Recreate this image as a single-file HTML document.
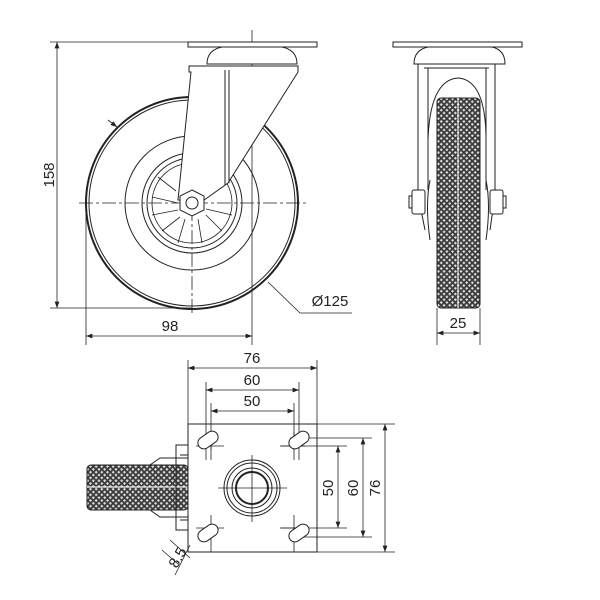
<!DOCTYPE html>
<html><head><style>body{margin:0;background:#fff}svg{display:block}text{font-family:"Liberation Sans",sans-serif;font-size:15px;fill:#222;stroke:none;font-weight:normal}</style></head><body>
<svg width="600" height="600" viewBox="0 0 600 600" fill="none" stroke="#222" stroke-width="1">
<defs>
<pattern id="kn" width="4" height="4" patternUnits="userSpaceOnUse" patternTransform="rotate(45)">
<rect width="4" height="4" fill="#3a3a3a" stroke="none"/><rect x="0.8" y="0.8" width="2.2" height="2.2" fill="#ddd" stroke="none"/></pattern>
<marker id="a" markerWidth="8" markerHeight="6" refX="8" refY="3" orient="auto-start-reverse"><path d="M0,0L8,3L0,6z" fill="#222" stroke="none"/></marker>
</defs>
<!-- side view -->
<g stroke-width="0.8">
<line x1="50" y1="42" x2="188" y2="42"/><line x1="50" y1="308" x2="192" y2="308"/>
<line x1="57" y1="42" x2="57" y2="308" marker-start="url(#a)" marker-end="url(#a)"/>
<line x1="86" y1="200" x2="86" y2="345"/><line x1="252" y1="30" x2="252" y2="345"/>
<line x1="86" y1="336" x2="252" y2="336" marker-start="url(#a)" marker-end="url(#a)"/>
<polyline points="268,282 300,313 352,313"/>
<line x1="108" y1="120" x2="117" y2="127" marker-end="url(#a)"/>
<line x1="79" y1="203" x2="306" y2="203" stroke-dasharray="14,3,3,3"/>
<line x1="192" y1="92" x2="192" y2="315" stroke-dasharray="14,3,3,3"/>
</g>
<text x="54" y="175" transform="rotate(-90 54 175)" text-anchor="middle">158</text>
<text x="170" y="331" text-anchor="middle">98</text>
<text x="330" y="306" text-anchor="middle">Ø125</text>
<circle cx="192" cy="203" r="106" stroke-width="2"/>
<circle cx="192" cy="203" r="103"/>
<circle cx="192" cy="203" r="67"/>
<circle cx="192" cy="203" r="50"/>
<circle cx="192" cy="203" r="45"/>
<g stroke-width="0.8">
<path d="M192,203 m-40,-6 l26,6 M192,203 m-40,12 l26,-5 M192,203 m-30,28 l18,-14 M192,203 m-14,40 l7,-24 M192,203 m10,40 l-4,-24 M192,203 m30,28 l-16,-16 M192,203 m40,12 l-26,-6 M192,203 m-34,-26 l18,14"/>
<circle cx="192" cy="203" r="40"/>
</g>
<path d="M189,66 L298,66 L298,72 L228,183 L200,203 L178,200 L191,72 L189,72 Z" fill="#fff"/>
<line x1="225" y1="70" x2="225" y2="185"/><line x1="229" y1="70" x2="229" y2="183"/>
<polygon points="192,190 204,196 204,210 192,216 180,210 180,196" fill="#fff"/>
<circle cx="192" cy="203" r="6"/>
<path d="M207,64 Q207,50 222,47 L282,47 Q297,50 297,64 Z" fill="#fff"/>
<rect x="188" y="42" width="129" height="5" fill="#fff"/>
<!-- front view -->
<rect x="393" y="42" width="129" height="5" fill="#fff"/>
<path d="M414,64 Q414,50 428,47 L492,47 Q505,50 505,64 Z" fill="#fff"/>
<path d="M418,64 L418,195 L425,230 M495,64 L495,195 L490,230 M424,68 L489,68 M428,68 L428,190 M486,68 L486,190"/>
<path d="M428,140 Q430,80 458,78 Q486,80 486,140"/>
<path d="M430,180 Q425,205 430,240 M486,180 Q491,205 486,240"/>
<rect x="437" y="98" width="43" height="210" rx="4" fill="url(#kn)"/>
<line x1="458" y1="98" x2="458" y2="308" stroke="#eee" stroke-width="1.2"/>
<rect x="412" y="190" width="13" height="24" rx="2" fill="#fff"/><rect x="409" y="196" width="3" height="12" fill="#fff"/>
<rect x="490" y="190" width="13" height="24" rx="2" fill="#fff"/><rect x="503" y="196" width="3" height="12" fill="#fff"/>
<g stroke-width="0.8"><line x1="437" y1="308" x2="437" y2="345"/><line x1="480" y1="308" x2="480" y2="345"/>
<line x1="437" y1="333" x2="480" y2="333" marker-start="url(#a)" marker-end="url(#a)"/></g>
<text x="458" y="328" text-anchor="middle">25</text>
<!-- top view -->
<rect x="87" y="465" width="101" height="45" rx="4" fill="url(#kn)"/>
<line x1="87" y1="487" x2="188" y2="487" stroke="#eee" stroke-width="1.2"/>
<path d="M150,465 L160,458 L188,458 M150,510 L160,517 L188,517 M176,445 L188,445 L188,530 L176,530 Z M180,455 L188,455 M180,520 L188,520"/>
<rect x="188" y="424" width="129" height="128" fill="#fff"/>
<g stroke-width="0.8">
<line x1="188" y1="360" x2="188" y2="424"/><line x1="317" y1="360" x2="317" y2="424"/>
<line x1="188" y1="368" x2="317" y2="368" marker-start="url(#a)" marker-end="url(#a)"/>
<line x1="206" y1="382" x2="206" y2="460"/><line x1="299" y1="382" x2="299" y2="460"/>
<line x1="206" y1="390" x2="299" y2="390" marker-start="url(#a)" marker-end="url(#a)"/>
<line x1="211" y1="403" x2="211" y2="450"/><line x1="294" y1="403" x2="294" y2="450"/>
<line x1="211" y1="411" x2="294" y2="411" marker-start="url(#a)" marker-end="url(#a)"/>
<line x1="317" y1="424" x2="395" y2="424"/><line x1="317" y1="552" x2="395" y2="552"/>
<line x1="385" y1="424" x2="385" y2="552" marker-start="url(#a)" marker-end="url(#a)"/>
<line x1="290" y1="438" x2="372" y2="438"/><line x1="290" y1="537" x2="372" y2="537"/>
<line x1="363" y1="438" x2="363" y2="537" marker-start="url(#a)" marker-end="url(#a)"/>
<line x1="280" y1="446" x2="347" y2="446"/><line x1="280" y1="528" x2="347" y2="528"/>
<line x1="338" y1="446" x2="338" y2="528" marker-start="url(#a)" marker-end="url(#a)"/>
<line x1="196" y1="446" x2="224" y2="446"/><line x1="211" y1="432" x2="211" y2="460"/>
<line x1="281" y1="446" x2="305" y2="446"/><line x1="294" y1="432" x2="294" y2="460"/>
<line x1="196" y1="528" x2="224" y2="528"/><line x1="211" y1="515" x2="211" y2="552"/>
<line x1="281" y1="528" x2="305" y2="528"/><line x1="294" y1="515" x2="294" y2="552"/>
<line x1="218" y1="488" x2="287" y2="488"/><line x1="252" y1="455" x2="252" y2="522"/>
<line x1="162" y1="550" x2="178" y2="564"/><line x1="170" y1="540" x2="190" y2="558"/>
<line x1="190" y1="545" x2="175" y2="575"/>
</g>
<g fill="#fff">
<rect x="197" y="434" width="22" height="12" rx="6" transform="rotate(-35 208 440)"/>
<rect x="288" y="434" width="22" height="12" rx="6" transform="rotate(-35 299 440)"/>
<rect x="197" y="527" width="22" height="12" rx="6" transform="rotate(-35 208 533)"/>
<rect x="288" y="527" width="22" height="12" rx="6" transform="rotate(-35 299 533)"/>
</g>
<circle cx="252" cy="488" r="28"/><circle cx="252" cy="488" r="25"/><circle cx="252" cy="488" r="20"/><circle cx="252" cy="488" r="16" stroke-width="2"/>
<text x="252" y="363" text-anchor="middle">76</text>
<text x="252" y="385" text-anchor="middle">60</text>
<text x="252" y="406" text-anchor="middle">50</text>
<text x="333" y="488" transform="rotate(-90 333 488)" text-anchor="middle">50</text>
<text x="358" y="488" transform="rotate(-90 358 488)" text-anchor="middle">60</text>
<text x="380" y="488" transform="rotate(-90 380 488)" text-anchor="middle">76</text>
<text x="182" y="560" transform="rotate(-60 182 560)" text-anchor="middle">8.5</text>
</svg>
</body></html>
